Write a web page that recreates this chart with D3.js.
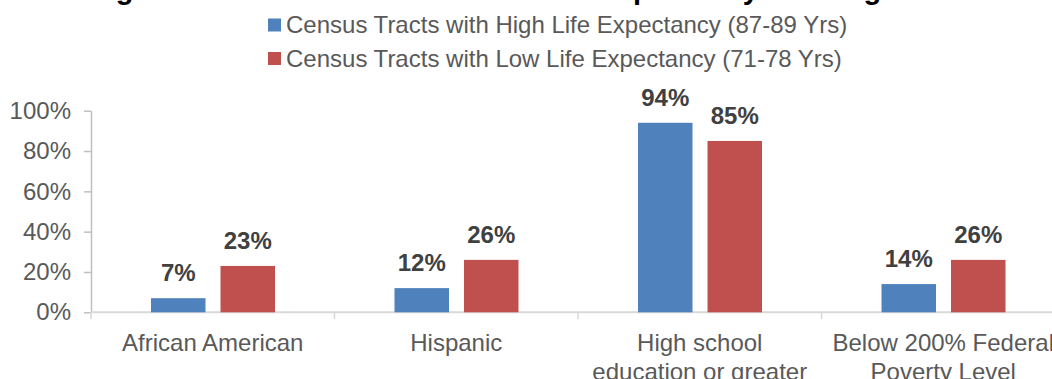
<!DOCTYPE html>
<html>
<head>
<meta charset="utf-8">
<script src="https://cdn.jsdelivr.net/npm/d3@7"></script>
<style>
  html, body { margin: 0; padding: 0; background: #fff; }
  svg { display: block; font-family: Arial, "Liberation Sans", sans-serif; }
</style>
</head>
<body>
<svg id="chart" width="1052" height="379"></svg>
<script>
// ---- data ----
const titleText = "Figure 3: Census Tracts and the Life Expectancy Ranking";
const categories = [
  ["African American"],
  ["Hispanic"],
  ["High school", "education or greater"],
  ["Below 200% Federal", "Poverty Level"]
];
const seriesNames = [
  "Census Tracts with High Life Expectancy (87-89 Yrs)",
  "Census Tracts with Low Life Expectancy (71-78 Yrs)"
];
const highValues = [0.07, 0.12, 0.94, 0.14];
const lowValues  = [0.23, 0.26, 0.85, 0.26];
const yTicks = [0, 0.2, 0.4, 0.6, 0.8, 1.0];
const colors = ["#4f81bd", "#c0504d"];

// ---- layout ----
const svg = d3.select("#chart");
const plotLeft = 91, bandW = 243.5, y0 = 312.3, y100 = 110.7;
const catKeys = categories.map(c => c.join(" "));

const x0 = d3.scaleBand().domain(catKeys)
  .range([plotLeft, plotLeft + bandW * catKeys.length]).padding(0);
const x1 = d3.scaleBand().domain(seriesNames)
  .range([60 * x0.bandwidth() / 243.5, 184 * x0.bandwidth() / 243.5])
  .paddingInner(0.216).paddingOuter(0);
const y = d3.scaleLinear().domain([0, 1]).range([y0, y100]);

// title (clipped at top as in reference)
svg.append("text")
  .attr("x", 90).attr("y", -1.5)
  .attr("font-size", 29).attr("font-weight", "bold").attr("fill", "#000")
  .text(titleText);

// legend
const legend = svg.append("g");
seriesNames.forEach((name, i) => {
  legend.append("rect")
    .attr("x", 268).attr("y", 18.5 + i * 33.5)
    .attr("width", 13).attr("height", 13)
    .attr("fill", colors[i]);
  legend.append("text")
    .attr("x", 286).attr("y", 33 + i * 33.5)
    .attr("font-size", 24).attr("fill", "#595959")
    .text(name);
});

// y axis
const yAxis = d3.axisLeft(y).tickValues(yTicks)
  .tickFormat(d3.format(".0%")).tickSizeInner(7).tickSizeOuter(0).tickPadding(13);
const gy = svg.append("g").attr("transform", `translate(${plotLeft},0)`).call(yAxis);
gy.select(".domain").attr("stroke", "#bfbfbf").attr("stroke-width", 1.5);
gy.selectAll(".tick line").attr("stroke", "#bfbfbf").attr("stroke-width", 1.5);
gy.selectAll(".tick text").attr("font-size", 24).attr("fill", "#595959")
  .attr("font-family", "Arial, 'Liberation Sans', sans-serif");

// x axis baseline + category ticks
const boundaries = catKeys.map(k => x0(k)).concat([x0.range()[1]]);
svg.append("line")
  .attr("x1", plotLeft).attr("x2", 1052)
  .attr("y1", y(0)).attr("y2", y(0))
  .attr("stroke", "#d9d9d9").attr("stroke-width", 2);
svg.selectAll(".cat-tick").data(boundaries).enter().append("line")
  .attr("class", "cat-tick")
  .attr("x1", d => d).attr("x2", d => d)
  .attr("y1", y(0)).attr("y2", y(0) + 7)
  .attr("stroke", "#d9d9d9").attr("stroke-width", 1.5);

// bars
const rows = catKeys.map((k, i) => ({ key: k, vals: [highValues[i], lowValues[i]] }));
const groups = svg.selectAll(".grp").data(rows).enter().append("g")
  .attr("class", "grp")
  .attr("transform", d => `translate(${x0(d.key)},0)`);

groups.selectAll("rect").data(d => d.vals.map((v, i) => ({ v, s: seriesNames[i], i })))
  .enter().append("rect")
  .attr("x", d => x1(d.s))
  .attr("y", d => y(d.v))
  .attr("width", x1.bandwidth())
  .attr("height", d => y(0) - y(d.v))
  .attr("fill", d => colors[d.i]);

groups.selectAll(".lbl").data(d => d.vals.map((v, i) => ({ v, s: seriesNames[i], i })))
  .enter().append("text")
  .attr("class", "lbl")
  .attr("x", d => x1(d.s) + x1.bandwidth() / 2)
  .attr("y", d => y(d.v) - 17)
  .attr("text-anchor", "middle")
  .attr("font-size", 24).attr("font-weight", "bold").attr("fill", "#404040")
  .text(d => d3.format(".0%")(d.v));

// category labels
categories.forEach((lines, i) => {
  const cx = x0(catKeys[i]) + x0.bandwidth() / 2;
  const t = svg.append("text")
    .attr("text-anchor", "middle").attr("font-size", 24).attr("fill", "#595959");
  lines.forEach((ln, j) => {
    t.append("tspan").attr("x", cx).attr("y", 351 + j * 29).text(ln);
  });
});
</script>
</body>
</html>
